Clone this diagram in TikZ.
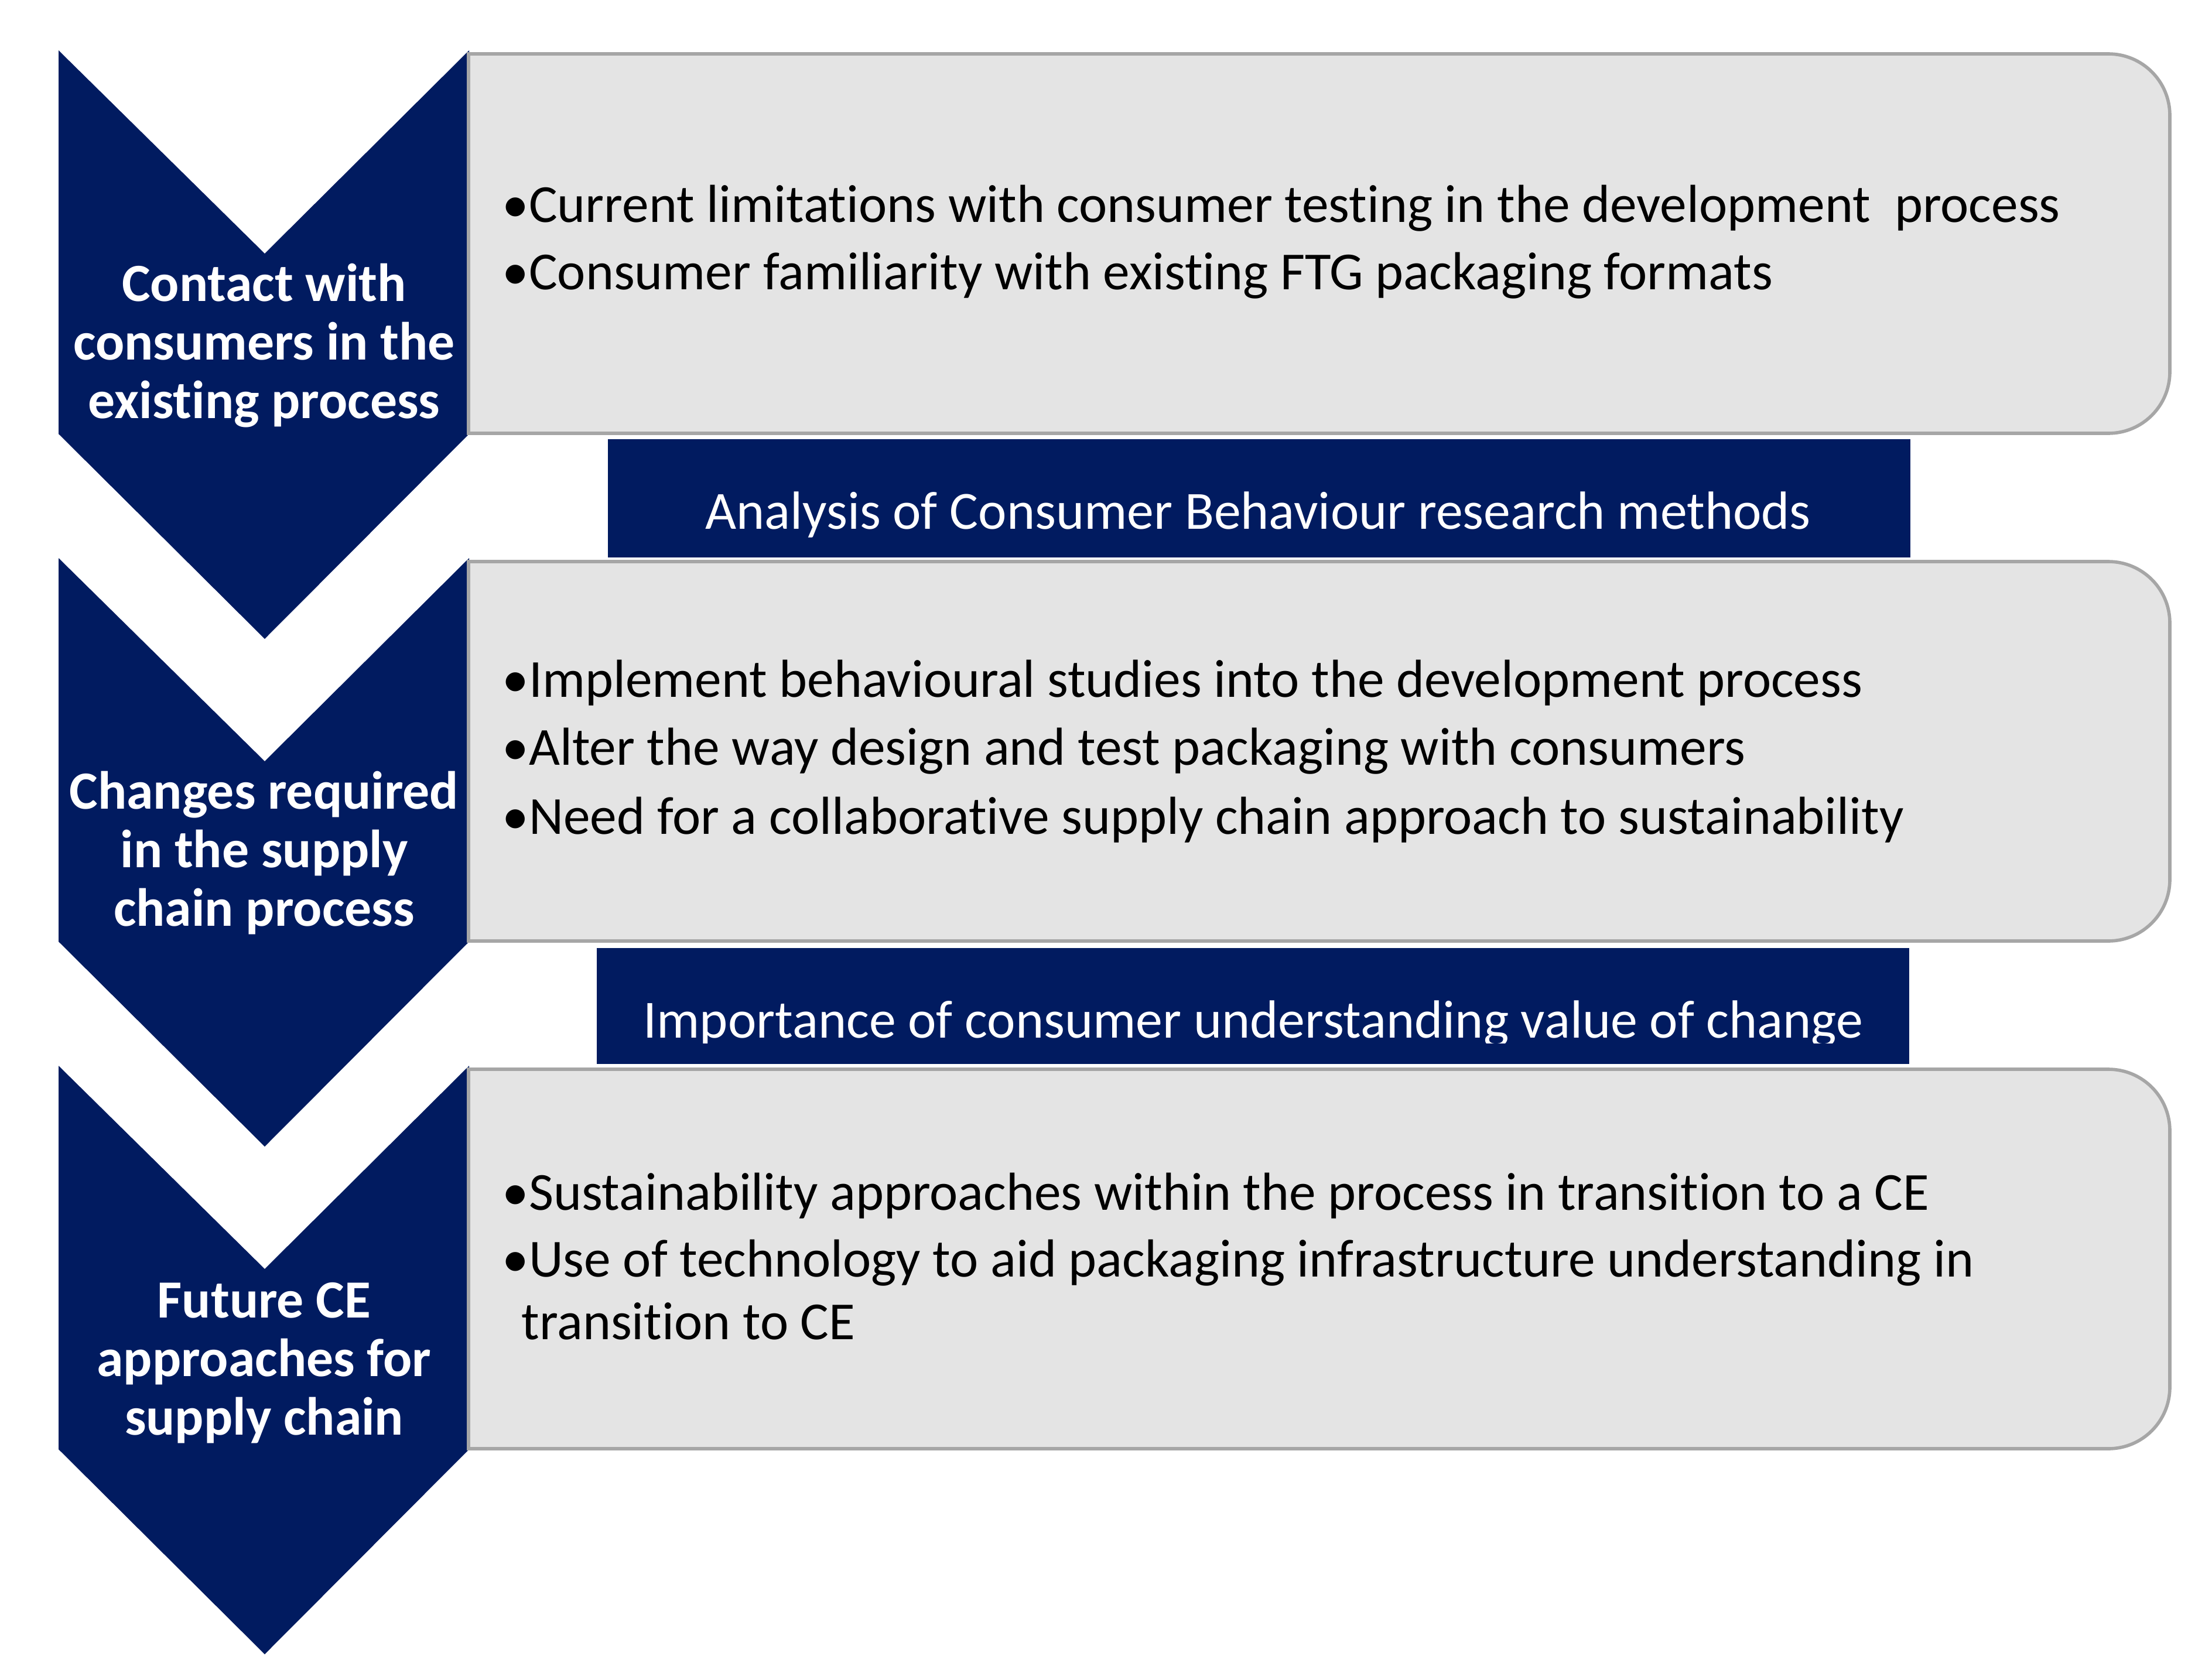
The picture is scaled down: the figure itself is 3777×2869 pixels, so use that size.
\documentclass[tikz,border=0pt]{standalone}
\usepackage{fontspec}
\setmainfont{Carlito}[Ligatures=NoCommon]
\usetikzlibrary{positioning}
\definecolor{navy}{RGB}{1,27,96}
\definecolor{panel}{RGB}{228,228,228}
\definecolor{rim}{RGB}{166,166,166}

\begin{document}
\begin{tikzpicture}[x=0.01cm, y=-0.01cm,
    arrowshape/.style={fill=navy},
    panelbox/.style={fill=panel, draw=rim, line width=1.6pt},
    bar/.style={fill=navy},
    chevtext/.style={anchor=base, inner sep=0pt, text=white, font=\bfseries\fontsize{26.1}{30}\selectfont},
    itemtext/.style={anchor=base west, inner sep=0pt, font=\fontsize{26}{31}\selectfont},
    bartext/.style={anchor=base, inner sep=0pt, text=white, font=\fontsize{26.1}{30}\selectfont}]
    \useasboundingbox (0,0) rectangle (3777,2869);

    % chevrons
    \foreach \y in {86,953,1820} {
        \fill[arrowshape] (100,\y) -- (452,{\y+347}) -- (801,\y) -- (801,{\y+655}) -- (452,{\y+1005}) -- (100,{\y+655}) -- cycle;
    }
    % panels
    \foreach \y in {92,959,1826} {
        \draw[panelbox] (800,\y) -- (3600,\y) arc[start angle=-90, end angle=0, radius=105] -- (3705,{\y+543}) arc[start angle=0, end angle=90, radius=105] -- (800,{\y+648}) -- cycle;
    }
    % bars
    \fill[bar] (1038,750) rectangle (3262,952);
    \fill[bar] (1019,1619) rectangle (3260,1817);

    % step labels
    \node[chevtext] (s1a) at (451,514) {Contact with};
    \node[chevtext] (s1b) at (451,614) {consumers in the};
    \node[chevtext] (s1c) at (451,714) {existing process};
    \node[chevtext] (s2a) at (451,1381) {Changes required};
    \node[chevtext] (s2b) at (451,1481) {in the supply};
    \node[chevtext] (s2c) at (451,1581) {chain process};
    \node[chevtext] (s3a) at (451,2250) {Future CE};
    \node[chevtext] (s3b) at (451,2350) {approaches for};
    \node[chevtext] (s3c) at (451,2450) {supply chain};

    % panel items
    \node[itemtext] (p1a) at (857,379) {•Current limitations with consumer testing in the development~~process};
    \node[itemtext] (p1b) at (857,494) {•Consumer familiarity with existing FTG packaging formats};
    \node[itemtext] (p2a) at (857,1190) {•Implement behavioural studies into the development process};
    \node[itemtext] (p2b) at (857,1306) {•Alter the way design and test packaging with consumers};
    \node[itemtext] (p2c) at (857,1424) {•Need for a collaborative supply chain approach to sustainability};
    \node[itemtext] (p3a) at (857,2066) {•Sustainability approaches within the process in transition to a CE};
    \node[itemtext] (p3b) at (857,2180) {•Use of technology to aid packaging infrastructure understanding in};
    \node[itemtext] (p3c) at (890,2287) {transition to CE};

    % bar texts
    \node[bartext] (b1) at (2148,903) {Analysis of Consumer Behaviour research methods};
    \begin{scope}
        \clip (1019,1619) rectangle (3260,1781);
        \node[bartext] (b2) at (2140,1772) {Importance of consumer understanding value of change};
    \end{scope}
\end{tikzpicture}
\end{document}
